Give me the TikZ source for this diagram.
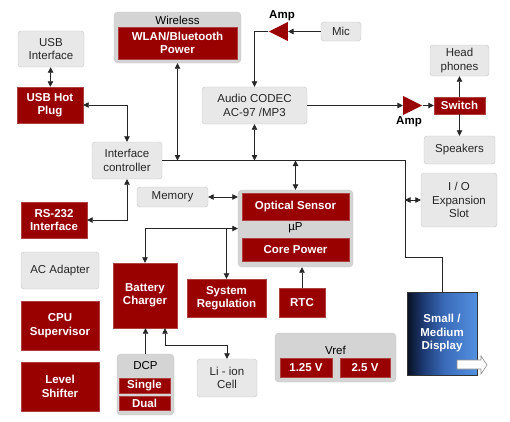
\documentclass[tikz,border=0pt]{standalone}
\usepackage{fontspec}
\setmainfont{Liberation Sans}
\usepackage{tikz}
\usetikzlibrary{arrows.meta,shapes.geometric}
\definecolor{tired}{HTML}{990000}
\definecolor{redline}{HTML}{B04040}
\definecolor{boxfill}{HTML}{E8E8E8}
\definecolor{boxline}{HTML}{C6C6C6}
\definecolor{groupfill}{HTML}{D4D4D4}
\definecolor{groupline}{HTML}{C4C4C4}
\definecolor{dispdark}{HTML}{081020}
\definecolor{dispdeep}{HTML}{1C3870}
\definecolor{dispmid}{HTML}{3A6CBA}
\definecolor{displight}{HTML}{5290E0}
\pgfdeclarehorizontalshading{dispshade}{100bp}{color(0bp)=(dispdark); color(25bp)=(dispdark);
  color(36bp)=(dispdeep); color(52bp)=(dispmid); color(75bp)=(displight); color(100bp)=(displight)}

\begin{document}
\begin{tikzpicture}[x=1pt,y=-1pt,
  font=\fontsize{11.5}{13.5}\selectfont,
  >={Triangle[length=5.5pt,width=5.5pt]},
  every node/.style={inner sep=0pt, align=center},
  graybox/.style={draw=boxline, fill=boxfill, rounded corners=3pt, text=black!85},
  redbox/.style={draw=redline, fill=tired, text=white, execute at begin node=\bfseries},
  groupbox/.style={draw=groupline, fill=groupfill, rounded corners=4pt},
  amp/.style={isosceles triangle, isosceles triangle stretches, fill=tired,
    minimum width=19pt, minimum height=19pt},
  amplabel/.style={execute at begin node=\bfseries, label distance=4pt},
  link/.style={line width=0.8pt, draw=black!85}]
  \useasboundingbox (0,0) rectangle (510,421);

  \node[graybox, minimum width=66pt, minimum height=36pt] (usbif) at (51,49) {USB\\Interface};
  \node[redbox, minimum width=66pt, minimum height=36pt] (usbhot) at (50,105) {USB Hot\\Plug};
  \node[groupbox, minimum width=127pt, minimum height=51pt] (wireless) at (177.5,37.5) {};
  \node (wltitle) at (177.5,20) {Wireless};
  \node[redbox, minimum width=119pt, minimum height=32pt] (wlan) at (177.5,43) {WLAN/Bluetooth\\Power};
  \node[graybox, minimum width=70pt, minimum height=37pt] (ifctrl) at (127,160.5) {Interface\\controller};
  \node[graybox, minimum width=105pt, minimum height=37pt] (codec) at (254.5,105.5) {Audio CODEC\\AC-97 /MP3};
  \node[graybox, minimum width=40pt, minimum height=19pt] (mic) at (341,31.5) {Mic};
  \node[amp, shape border rotate=180, label={[amplabel]above:Amp}] (amp1) at (282,31.5) {};
  \node[amp, label={[amplabel]below:Amp}] (amp2) at (409,105.5) {};
  \node[redbox, minimum width=51pt, minimum height=17pt] (switch) at (459.5,105.5) {Switch};
  \node[graybox, minimum width=59pt, minimum height=31pt] (phones) at (459.5,60.5) {Head\\phones};
  \node[graybox, minimum width=71pt, minimum height=28pt] (speakers) at (459.5,150) {Speakers};
  \node[graybox, minimum width=76pt, minimum height=54pt] (ioslot) at (459,200) {I / O\\Expansion\\Slot};
  \node[graybox, minimum width=71pt, minimum height=20pt] (memory) at (172.5,197) {Memory};
  \node[groupbox, minimum width=115pt, minimum height=77pt] (up) at (295.5,228.5) {};
  \node[redbox, minimum width=107pt, minimum height=27pt] (optical) at (295.5,206.5) {Optical Sensor};
  \node (uptitle) at (295.5,228) {µP};
  \node[redbox, minimum width=107pt, minimum height=23pt] (core) at (295.5,249.5) {Core Power};
  \node[redbox, minimum width=66pt, minimum height=36pt] (rs232) at (54,220) {RS-232\\Interface};
  \node[graybox, minimum width=78pt, minimum height=37pt] (acadapter) at (60,270.5) {AC Adapter};
  \node[redbox, minimum width=78pt, minimum height=49pt] (cpusup) at (60,325.5) {CPU\\Supervisor};
  \node[redbox, minimum width=78pt, minimum height=49pt] (level) at (60,386.5) {Level\\Shifter};
  \node[redbox, minimum width=64pt, minimum height=65pt] (charger) at (145,295.5) {Battery\\Charger};
  \node[redbox, minimum width=79pt, minimum height=38pt] (sysreg) at (226.5,298) {System\\Regulation};
  \node[redbox, minimum width=46pt, minimum height=29pt] (rtc) at (302,302.5) {RTC};
  \node[groupbox, minimum width=57pt, minimum height=61pt] (dcp) at (145.5,384.5) {};
  \node (dcptitle) at (145.5,366) {DCP};
  \node[redbox, minimum width=51pt, minimum height=15pt] (single) at (144.5,385.5) {Single};
  \node[redbox, minimum width=51pt, minimum height=14pt] (dual) at (144.5,403) {Dual};
  \node[graybox, minimum width=60pt, minimum height=38pt] (liion) at (227,378) {Li - ion\\Cell};
  \node[groupbox, minimum width=121pt, minimum height=49pt] (vref) at (335.5,357.5) {};
  \node (vreftitle) at (335.5,350) {Vref};
  \node[redbox, minimum width=52pt, minimum height=19pt] (vlow) at (306,367.5) {1.25 V};
  \node[redbox, minimum width=50pt, minimum height=19pt] (vhigh) at (365,367.5) {2.5 V};
  \node[draw=black!80, shading=dispshade, text=white,
    execute at begin node=\bfseries, minimum width=70pt, minimum height=83pt] (display) at (442,333.5) {Small /\\Medium\\Display};
  \draw[fill=white, draw=black!45, line width=0.6pt] (457,360) -- (481,360) -- (481,356) -- (487,365)
    -- (481,374) -- (481,369) -- (457,369) -- cycle;

  \draw[link,<->] (usbif) -- (usbhot);
  \draw[link,<->] (usbhot.east) -| (ifctrl.north);
  \draw[link,<->] (ifctrl.south) |- (rs232.east);
  \coordinate (busbend) at (405,257);
  \draw[link] (ifctrl.east) -| (busbend) -| (display.north);
  \draw[link,<->] (wireless.south) -- (wireless.south |- ifctrl.east);
  \draw[link,<->] (codec.south) -- (codec.south |- ifctrl.east);
  \draw[link,<->] (up.north |- ifctrl.east) -- (up.north);
  \draw[link,<->] (busbend |- ioslot.west) -- (ioslot.west);
  \draw[link,<->] (memory.east) -- (memory.east -| up.west);
  \draw[link,<->] (up.west) -| (charger.north);
  \draw[link,->] (sysreg.north |- up.west) -- (sysreg.north);
  \draw[link,->] (rtc.north) -- (rtc.north |- up.south);
  \draw[link,->] (dcp.north) -- (dcp.north |- charger.south);
  \coordinate (chgli) at (196,345);
  \draw[link,<->] ([xshift=20pt]charger.south) |- (chgli) -| (liion.north);
  \draw[link,->] (mic.west) -- (amp1.east);
  \draw[link,->] (amp1.west) -| (codec.north);
  \draw[link,->] (codec.east) -- (amp2.west);
  \draw[link,->] (amp2.east) -- (switch.west);
  \draw[link,->] (switch.north) -- (phones.south);
  \draw[link,->] (switch.south) -- (speakers.north);
\end{tikzpicture}
\end{document}
